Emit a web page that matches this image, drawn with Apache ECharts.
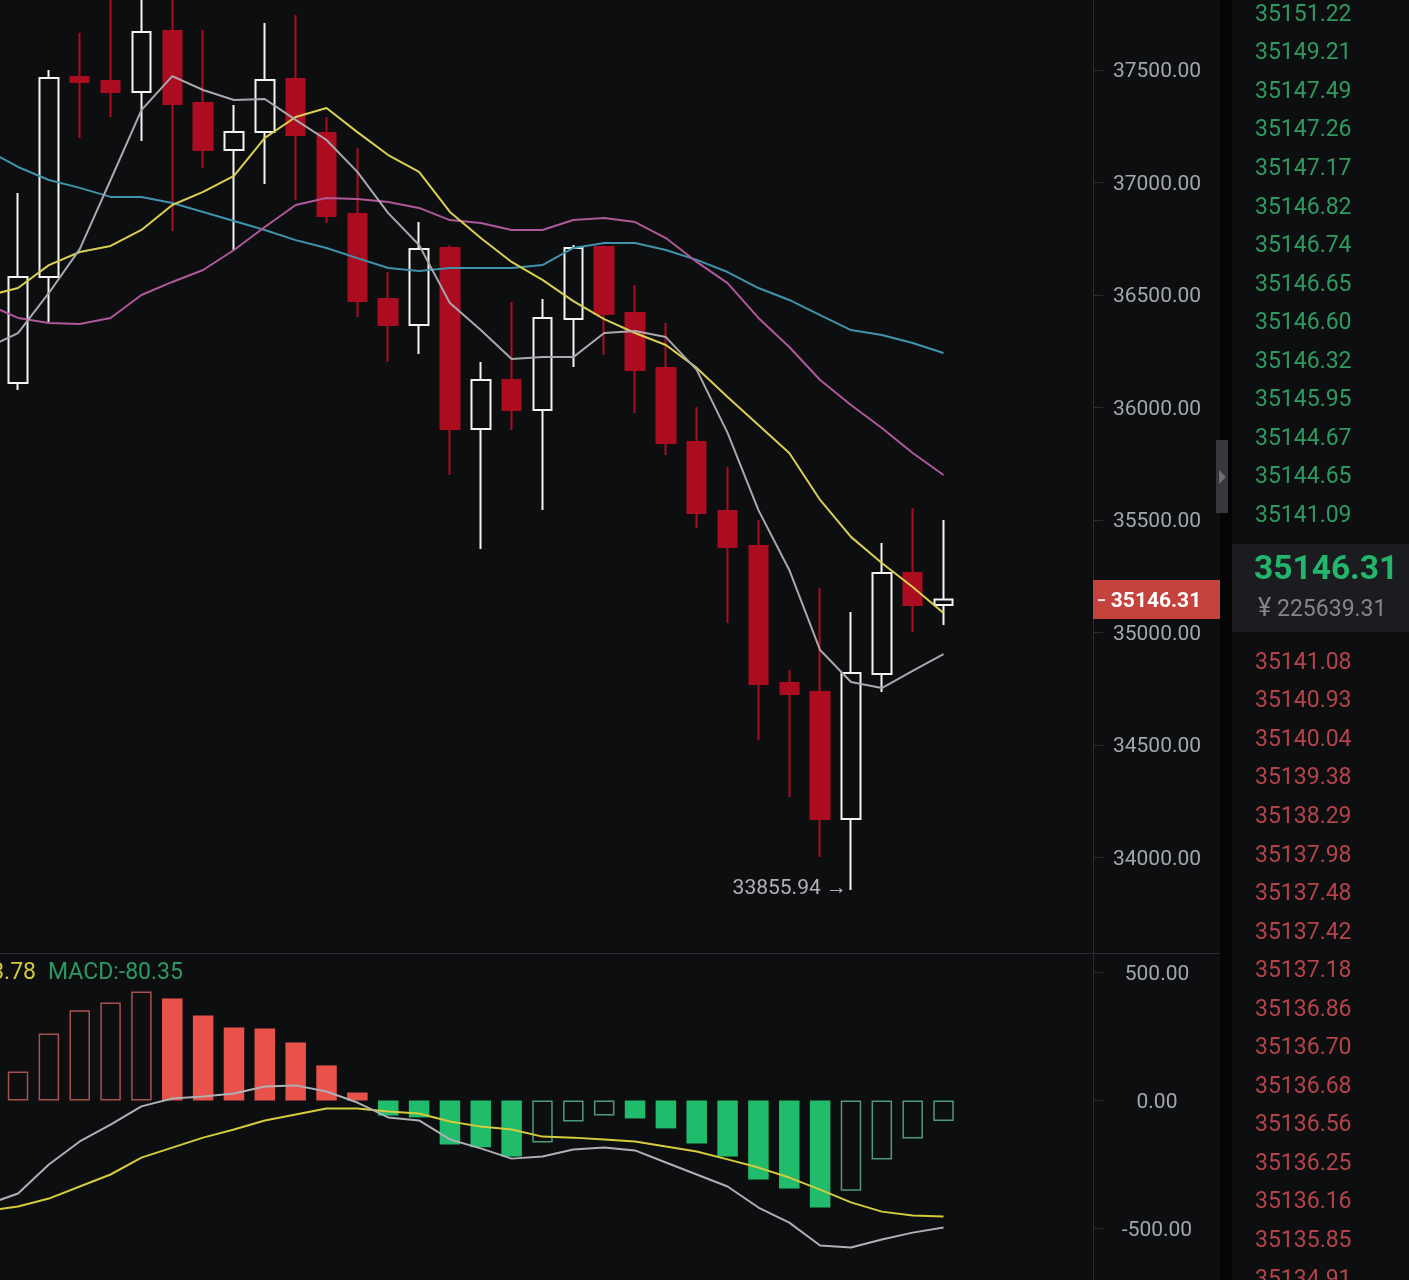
<!DOCTYPE html>
<html>
<head>
<meta charset="utf-8">
<style>
    html, body {margin: 0; padding: 0; background: #0d0e10;}
    #main {width: 1409px; height: 1280px;}
</style>
<script src="https://cdn.jsdelivr.net/npm/echarts@6/dist/echarts.min.js"></script>
</head>
<body>
<div id="main"></div>
<script>
// first slot of every series is the bar just off the left edge, only the lines have a value there
// open, close, low, high
var candles = [
    ['-', '-', '-', '-'],
    [36109, 36580, 36078, 36953],
    [36580, 37464, 36380, 37500],
    [37469, 37447, 37198, 37664],
    [37451, 37402, 37291, 37860],
    [37402, 37669, 37184, 37900],
    [37673, 37349, 36784, 37880],
    [37353, 37144, 37064, 37678],
    [37144, 37224, 36700, 37344],
    [37224, 37456, 36993, 37709],
    [37460, 37211, 36922, 37744],
    [37220, 36851, 36820, 37291],
    [36860, 36473, 36402, 37153],
    [36482, 36367, 36202, 36602],
    [36367, 36704, 36238, 36824],
    [36709, 35904, 35700, 36720],
    [35904, 36122, 35371, 36202],
    [36122, 35989, 35900, 36469],
    [35989, 36398, 35544, 36482],
    [36393, 36709, 36180, 36722],
    [36713, 36416, 36233, 36720],
    [36420, 36167, 35976, 36544],
    [36176, 35842, 35789, 36376],
    [35847, 35531, 35464, 36002],
    [35540, 35380, 35042, 35736],
    [35385, 34771, 34522, 35500],
    [34776, 34727, 34269, 34833],
    [34736, 34171, 34002, 35198],
    [34171, 34820, 33855.94, 35091],
    [34816, 35264, 34736, 35398],
    [35264, 35122, 35002, 35553],
    [35122, 35146.31, 35033, 35500]
];
var ma5 = [36265, 36331, 36509, 36704, 37011, 37322, 37473, 37411, 37367, 37371, 37278, 37189, 37047, 36864, 36722, 36464,
    36344, 36216, 36224, 36224, 36331, 36340, 36313, 36167, 35887, 35544, 35278, 34922, 34780, 34753, 34829, 34904];
var ma10 = [36496, 36531, 36633, 36691, 36718, 36789, 36900, 36958, 37029, 37198, 37291, 37331, 37224, 37122, 37047, 36869,
    36753, 36647, 36567, 36473, 36393, 36331, 36278, 36176, 36047, 35922, 35798, 35589, 35425, 35309, 35202, 35087];
var ma30 = [36460, 36398, 36376, 36371, 36398, 36500, 36558, 36611, 36700, 36802, 36900, 36931, 36927, 36913, 36887, 36833,
    36820, 36789, 36789, 36833, 36842, 36824, 36753, 36647, 36553, 36398, 36269, 36122, 36011, 35909, 35798, 35700];
var ma60 = [37144, 37069, 37011, 36976, 36936, 36936, 36909, 36869, 36829, 36789, 36744, 36709, 36664, 36620, 36607, 36620,
    36620, 36620, 36633, 36709, 36731, 36731, 36700, 36656, 36602, 36531, 36478, 36411, 36344, 36322, 36287, 36242];
var macdBars = [null, 113, 262, 352, 383, 426, 398, 332, 285, 281, 226, 137, 31, -59, -66, -172,
    -183, -219, -164, -82, -59, -70, -109, -168, -219, -309, -344, -418, -352, -230, -148, -80.35];
var dif = [-406, -363, -250, -160, -94, -23, 8, 16, 27, 55, 59, 35, -8, -66, -78, -152,
    -187, -227, -219, -191, -184, -195, -242, -289, -336, -418, -477, -566, -574, -543, -516, -496];
var dea = [-430, -414, -383, -336, -289, -223, -184, -145, -113, -78, -55, -31, -31, -43, -51, -82,
    -102, -113, -141, -145, -152, -160, -180, -199, -230, -262, -301, -348, -398, -434, -449, -453];

var priceTicks = [34000, 34500, 35000, 35500, 36000, 36500, 37000, 37500];
var macdTicks = [-500, 0, 500];
var lastPrice = 35146.31;
var lastPriceCny = '225639.31';
var lowPrice = 33855.94;
var lowIndex = 28;
var macdLabel = 'MACD:-80.35';
var deaLabel = '3.78';
var askPrices = ['35151.22', '35149.21', '35147.49', '35147.26', '35147.17', '35146.82', '35146.74',
    '35146.65', '35146.60', '35146.32', '35145.95', '35144.67', '35144.65', '35141.09'];
var bidPrices = ['35141.08', '35140.93', '35140.04', '35139.38', '35138.29', '35137.98', '35137.48', '35137.42', '35137.18',
    '35136.86', '35136.70', '35136.68', '35136.56', '35136.25', '35136.16', '35135.85', '35134.91'];

var FONT = 'Roboto, sans-serif';
var BG = '#0d0e10';
var AXIS = '#2b2c30';
var UP = '#f4f4f4';
var DOWN = '#ab0c20';

var categories = [];
for (var i = 0; i < 36; i++) {
    categories.push(String(i));
}

// bars that grow from the previous one are drawn hollow
var macdData = macdBars.map(function (v, idx) {
    if (v === null) {
        return null;
    }
    var prev = macdBars[idx - 1];
    var hollow = prev === null || v > prev;
    var solidColor = v >= 0 ? '#e9524b' : '#20bb6b';
    var lineColor = v >= 0 ? '#a9514f' : '#4f9a79';
    return {
        value: v,
        itemStyle: {
            color: hollow ? 'transparent' : solidColor,
            borderColor: hollow ? lineColor : solidColor,
            borderWidth: hollow ? 1.5 : 0
        }
    };
});

function lineSeries(name, data, color, xIndex, width) {
    return {
        name: name,
        type: 'line',
        xAxisIndex: xIndex,
        yAxisIndex: xIndex,
        data: data,
        symbol: 'none',
        silent: true,
        z: 5,
        lineStyle: {color: color, width: width}
    };
}

function priceAxis(gridIndex, min, max, ticks) {
    return {
        type: 'value',
        gridIndex: gridIndex,
        position: 'right',
        offset: 10.65,
        min: min,
        max: max,
        scale: true,
        splitLine: {show: false},
        axisLine: {show: true, lineStyle: {color: AXIS, width: 1}},
        axisTick: {show: true, length: 10, customValues: ticks, lineStyle: {color: AXIS}},
        axisLabel: {
            customValues: ticks,
            margin: 64,
            align: 'center',
            formatter: function (v) {
                return '{t|' + Number(v).toFixed(2) + '}';
            },
            // rich padding pushes the digits down onto the tick
            rich: {
                t: {
                    padding: [4, 0, 0, 0],
                    color: '#a3a6ab',
                    fontFamily: FONT,
                    fontSize: 21
                }
            }
        }
    };
}

var option = {
    animation: false,
    backgroundColor: BG,
    grid: [
        {left: -28.25, top: 0, width: 1110.6, height: 953, outerBoundsMode: 'none'},
        {left: -28.25, top: 953, width: 1110.6, height: 327, outerBoundsMode: 'none'}
    ],
    xAxis: [
        {type: 'category', gridIndex: 0, data: categories, show: false},
        {type: 'category', gridIndex: 1, data: categories, show: false}
    ],
    yAxis: [
        priceAxis(0, 33575.6, 37811.1, priceTicks),
        priceAxis(1, -701, 576, macdTicks)
    ],
    series: [
        {
            type: 'candlestick',
            xAxisIndex: 0,
            yAxisIndex: 0,
            barWidth: 19,
            data: candles,
            z: 2,
            itemStyle: {
                color: 'transparent',
                color0: DOWN,
                borderColor: UP,
                borderColor0: DOWN,
                borderWidth: 2
            },
            markPoint: {
                symbol: 'circle',
                symbolSize: 0,
                silent: true,
                data: [{coord: [String(lowIndex), lowPrice], value: lowPrice}],
                label: {
                    show: true,
                    position: 'left',
                    distance: 4,
                    offset: [0, -1],
                    color: '#b0b2b5',
                    fontFamily: FONT,
                    fontSize: 21,
                    formatter: function () {
                        return lowPrice.toFixed(2) + ' →';
                    }
                }
            }
        },
        lineSeries('MA60', ma60, '#3f93ad', 0, 2),
        lineSeries('MA30', ma30, '#b0589a', 0, 2),
        lineSeries('MA10', ma10, '#d9d052', 0, 2),
        lineSeries('MA5', ma5, '#a9a9ad', 0, 2),
        {
            type: 'bar',
            xAxisIndex: 1,
            yAxisIndex: 1,
            barWidth: 20.5,
            data: macdData,
            z: 2
        },
        lineSeries('DEA', dea, '#d4cc3c', 1, 2),
        lineSeries('DIF', dif, '#aeb0b4', 1, 2)
    ]
};

var chart = echarts.init(document.getElementById('main'));
chart.setOption(option);

// page furniture around the chart, the price tag follows the price axis
var tagY = chart.convertToPixel({yAxisIndex: 0}, lastPrice);
var furniture = [
    {type: 'rect', z: 20, shape: {x: 0, y: 953, width: 1220, height: 1}, style: {fill: AXIS}},
    {type: 'rect', z: 20, shape: {x: 1220, y: 0, width: 12, height: 1280}, style: {fill: '#040405'}},
    {type: 'rect', z: 21, shape: {x: 1216, y: 440, width: 12, height: 73}, style: {fill: '#37383c'}},
    {type: 'polygon', z: 22, shape: {points: [[1219, 470], [1226, 477], [1219, 484]]}, style: {fill: '#6d6e72'}},
    {type: 'rect', z: 20, shape: {x: 1093, y: tagY - 19.5, width: 127, height: 39}, style: {fill: '#c5423d'}},
    {type: 'rect', z: 21, shape: {x: 1098, y: tagY - 0.5, width: 7, height: 2}, style: {fill: '#f3e3e1'}},
    {
        type: 'text', z: 21,
        style: {x: 1156, y: tagY + 2.5, text: lastPrice.toFixed(2), align: 'center', verticalAlign: 'middle', fill: '#fff', font: 'bold 21px ' + FONT}
    },
    {type: 'rect', z: 20, shape: {x: 1232, y: 544, width: 177, height: 88}, style: {fill: '#1b1c1f'}},
    {
        type: 'text', z: 21,
        style: {x: 1254, y: 571, text: lastPrice.toFixed(2), verticalAlign: 'middle', fill: '#22b56c', font: 'bold 33.5px ' + FONT}
    },
    {
        type: 'text', z: 21,
        style: {x: 1258, y: 610, text: '¥', verticalAlign: 'middle', fill: '#84868b', font: '25px ' + FONT}
    },
    {
        type: 'text', z: 21,
        style: {x: 1277, y: 610, text: lastPriceCny, verticalAlign: 'middle', fill: '#84868b', font: '23px ' + FONT}
    },
    {
        type: 'text', z: 21,
        style: {x: 36, y: 973, text: deaLabel, align: 'right', verticalAlign: 'middle', fill: '#d4c93c', font: '23px ' + FONT}
    },
    {
        type: 'text', z: 21,
        style: {x: 48, y: 973, text: macdLabel, verticalAlign: 'middle', fill: '#2c9a62', font: '23px ' + FONT}
    }
];

function pushBook(list, startY, color) {
    list.forEach(function (txt, idx) {
        furniture.push({
            type: 'text', z: 21,
            style: {x: 1255, y: startY + idx * 38.55, text: txt, verticalAlign: 'middle', fill: color, font: '23px ' + FONT}
        });
    });
}
pushBook(askPrices, 15, '#2f9a60');
pushBook(bidPrices, 663, '#b4434a');

chart.setOption({graphic: furniture});
</script>
</body>
</html>
